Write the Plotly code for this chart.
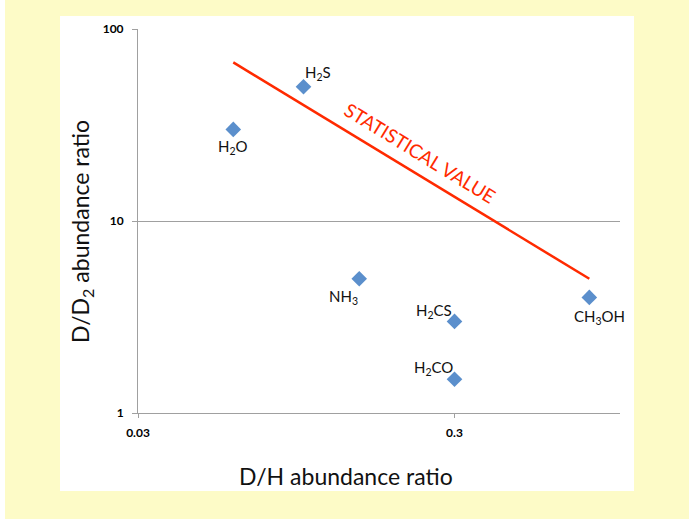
import math
import plotly.graph_objects as go

# ---- data ----
molecules = ["H<sub>2</sub>O", "H<sub>2</sub>S", "NH<sub>3</sub>", "H<sub>2</sub>CS", "H<sub>2</sub>CO", "CH<sub>3</sub>OH"]
dh_ratio = [0.06, 0.10, 0.15, 0.30, 0.30, 0.80]
dd2_ratio = [30, 50, 5, 3, 1.5, 4]

stat_x = [0.06, 0.80]
stat_y = [67, 5]

x_tickvals = [0.03, 0.3]
x_ticktext = ["0.03", "0.3"]
y_tickvals = [1, 10, 100]
y_ticktext = ["1", "10", "100"]

# label offsets (pixels) for each molecule
label_dx = [0, 14, -16, -21, -21, 10]
label_dy = [-18, 14, -18, 10, 11, -20]

W, H = 689, 520
L, R, T, B = 138, 69, 29, 107
PW = W - L - R
PH = H - T - B
FONT = "Lato"


def px_x(p):
    return (p - L) / PW


def px_y(p):
    return (H - B - p) / PH


fig = go.Figure()

fig.add_trace(go.Scatter(
    x=stat_x, y=stat_y, mode="lines",
    line=dict(color="#FF2A00", width=2.5),
    showlegend=False, hoverinfo="skip"))

fig.add_trace(go.Scatter(
    x=dh_ratio, y=dd2_ratio, mode="markers",
    marker=dict(symbol="diamond", size=12, color="#5B8FCC",
                line=dict(width=0)),
    showlegend=False))

annotations = []
for name, x, y, dx, dy in zip(molecules, dh_ratio, dd2_ratio, label_dx, label_dy):
    # log axes: annotation coordinates are given in log10 units
    annotations.append(dict(
        x=math.log10(x), y=math.log10(y), xref="x", yref="y", text=name,
        showarrow=False, xshift=dx, yshift=dy,
        xanchor="center", yanchor="middle",
        font=dict(family=FONT, size=15, color="#111111")))

annotations.append(dict(
    x=px_x(420), y=px_y(152), xref="paper", yref="paper",
    text="STATISTICAL VALUE", showarrow=False, textangle=31.5,
    xanchor="center", yanchor="middle",
    font=dict(family=FONT, size=19, color="#FF2A00")))

annotations.append(dict(
    x=px_x(346), y=px_y(476), xref="paper", yref="paper",
    text="D/H abundance ratio", showarrow=False,
    xanchor="center", yanchor="middle",
    font=dict(family=FONT, size=23, color="#111111")))

annotations.append(dict(
    x=px_x(82), y=px_y(232), xref="paper", yref="paper",
    text="D/D<sub>2</sub> abundance ratio", showarrow=False, textangle=-90,
    xanchor="center", yanchor="middle",
    font=dict(family=FONT, size=23, color="#111111")))

shapes = [
    dict(type="rect", xref="paper", yref="paper", layer="below",
         x0=px_x(5), x1=px_x(689), y0=px_y(519), y1=px_y(0),
         fillcolor="#FDFBC7", line=dict(width=0)),
    dict(type="rect", xref="paper", yref="paper", layer="below",
         x0=px_x(60), x1=px_x(634), y0=px_y(491), y1=px_y(16),
         fillcolor="#FFFFFF", line=dict(width=0)),
]

fig.update_layout(
    width=W, height=H,
    margin=dict(l=L, r=R, t=T, b=B, pad=0),
    paper_bgcolor="#FFFFFF", plot_bgcolor="#FFFFFF",
    annotations=annotations, shapes=shapes,
    font=dict(family=FONT),
)

fig.update_xaxes(
    type="log", range=[-1.5229, 0.0],
    tickvals=x_tickvals, ticktext=x_ticktext,
    showgrid=False, zeroline=False,
    showline=True, linecolor="#A0A0A0", linewidth=1,
    ticks="outside", ticklen=4, tickcolor="#A0A0A0",
    ticklabelstandoff=5,
    tickfont=dict(family=FONT, size=12, color="#000000", weight="bold"))

fig.update_yaxes(
    type="log", range=[0, 2],
    tickvals=y_tickvals, ticktext=y_ticktext,
    showgrid=True, gridcolor="#A0A0A0", gridwidth=1, zeroline=False,
    showline=True, linecolor="#A0A0A0", linewidth=1,
    ticks="outside", ticklen=5, tickcolor="#A0A0A0",
    ticklabelstandoff=6,
    tickfont=dict(family=FONT, size=12, color="#000000", weight="bold"))

fig.write_html("out.html")
